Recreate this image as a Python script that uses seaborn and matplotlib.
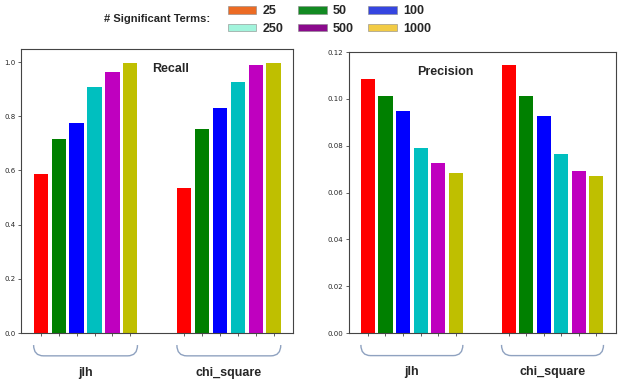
import numpy as np
import pandas as pd
import matplotlib
matplotlib.use("Agg")
import matplotlib.pyplot as plt
import matplotlib.transforms as mtransforms
from matplotlib.path import Path
from matplotlib.patches import PathPatch, Patch
import seaborn as sns


methods = ["jlh", "chi_square"]
term_counts = ["25", "50", "100", "250", "500", "1000"]

recall_jlh = [0.588, 0.715, 0.775, 0.906, 0.963, 0.998]
recall_chi = [0.537, 0.754, 0.830, 0.927, 0.990, 0.998]
precision_jlh = [0.1086, 0.1014, 0.0949, 0.0792, 0.0726, 0.0682]
precision_chi = [0.1145, 0.1013, 0.0926, 0.0763, 0.0693, 0.0670]

# bars use plain matplotlib letters, the legend (oddly) uses other colours
bar_colors = ["r", "g", "b", "c", "m", "y"]
legend_colors = ["#ec6b24", "#128a22", "#3545e0", "#a2f4dc", "#8a0a8c", "#f2cb45"]

BRACE_COLOR = "#8fa2c0"
BOLD_FONT = ["Liberation Sans", "DejaVu Sans"]


def _frame(values_by_method):
    rows = []
    step = len(term_counts) + 2
    for gi, (method, vals) in enumerate(zip(methods, values_by_method)):
        for ti, (term, v) in enumerate(zip(term_counts, vals)):
            rows.append({"pos": gi * step + ti, "terms": term, "method": method, "value": v})
    return pd.DataFrame(rows)


def _brace(ax, x0, x1, y_top=-0.042, y_bot=-0.08, r=0.55):
    trans = mtransforms.blended_transform_factory(ax.transData, ax.transAxes)
    verts = [
        (x0, y_top), (x0, y_bot), (x0 + r, y_bot),
        (x1 - r, y_bot),
        (x1, y_bot), (x1, y_top),
    ]
    codes = [Path.MOVETO, Path.CURVE3, Path.CURVE3, Path.LINETO, Path.CURVE3, Path.CURVE3]
    patch = PathPatch(Path(verts, codes), transform=trans, fill=False,
                      edgecolor=BRACE_COLOR, linewidth=1.0, clip_on=False)
    ax.add_patch(patch)


def draw_panel(ax, df, title, title_x, ylim=None):
    sns.barplot(
        data=df, x="pos", y="value", hue="terms", hue_order=term_counts,
        palette=dict(zip(term_counts, bar_colors)), native_scale=True,
        dodge=False, saturation=1, width=0.8, linewidth=0, legend=False, ax=ax,
    )
    ax.set_xticks(df["pos"])
    ax.set_xticklabels([])
    ax.set_xlabel("")
    ax.set_ylabel("")
    ax.tick_params(axis="both", labelsize=5, length=2.5, width=0.6, pad=1.5,
                   color="#444444")
    if ylim is not None:
        ax.set_ylim(*ylim)
    for s in ax.spines.values():
        s.set_linewidth(0.8)
        s.set_color("#444444")

    ax.text(title_x, 0.93, title, transform=ax.transAxes, ha="center", va="center",
            fontsize=9, fontweight="bold", family=BOLD_FONT)

    trans = mtransforms.blended_transform_factory(ax.transData, ax.transAxes)
    for method in methods:
        sub = df[df["method"] == method]
        x0, x1 = sub["pos"].min() - 0.4, sub["pos"].max() + 0.4
        _brace(ax, x0, x1)
        ax.text((x0 + x1) / 2, -0.14, method, transform=trans, ha="center", va="center",
                fontsize=9, fontweight="bold", family=BOLD_FONT)


sns.set_style("ticks")
plt.rcParams["font.family"] = ["DejaVu Sans"]

fig = plt.figure(figsize=(6.25, 3.86), dpi=100)
ax_rec = fig.add_axes([0.034, 0.137, 0.435, 0.736])
ax_pre = fig.add_axes([0.558, 0.137, 0.427, 0.728])

draw_panel(ax_rec, _frame([recall_jlh, recall_chi]), "Recall", 0.55)
draw_panel(ax_pre, _frame([precision_jlh, precision_chi]), "Precision", 0.36, ylim=(0, 0.12))

# legend: row-major order for 3 columns
handles = [Patch(facecolor=c, edgecolor="#888888", linewidth=0.4, label=t)
           for t, c in zip(term_counts, legend_colors)]
order = [0, 3, 1, 4, 2, 5]
fig.legend(
    [handles[i] for i in order], [term_counts[i] for i in order],
    ncol=3, loc="center", bbox_to_anchor=(0.527, 0.948), frameon=False,
    prop={"family": BOLD_FONT, "weight": "bold", "size": 9},
    handlelength=2.3, handleheight=0.6, handletextpad=0.5,
    columnspacing=1.15, labelspacing=0.45,
)
fig.text(0.251, 0.951, "# Significant Terms:", ha="center", va="center",
         fontsize=8, fontweight="bold", family=BOLD_FONT)

fig.savefig("out.png", dpi=100, facecolor="white")
plt.close(fig)
